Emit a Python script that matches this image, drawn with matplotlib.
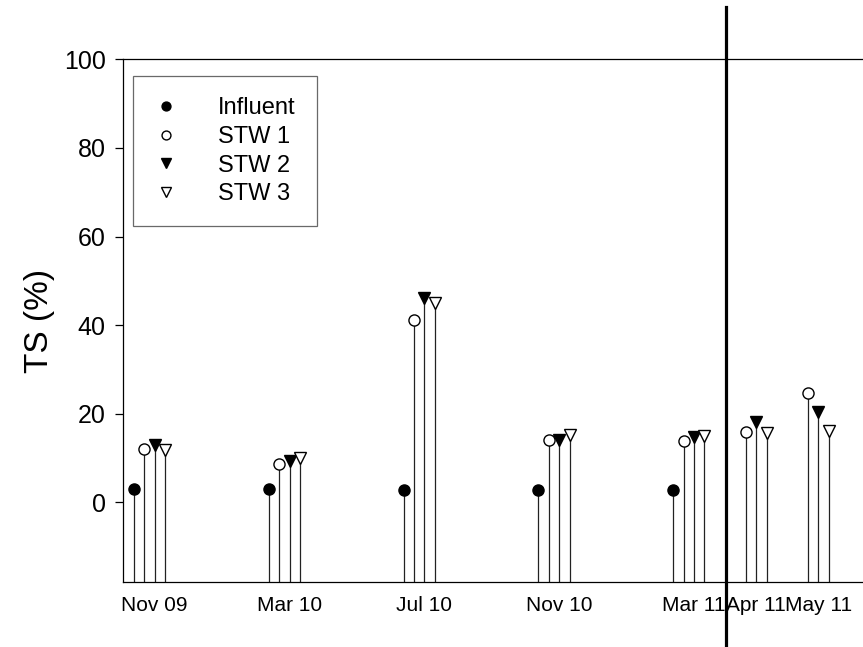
import matplotlib
matplotlib.use("Agg")
import matplotlib.pyplot as plt
import numpy as np

plt.rcParams['font.family'] = ['Liberation Sans', 'DejaVu Sans']

# Data
dates = ["Nov 09", "Mar 10", "Jul 10", "Nov 10", "Mar 11", "Apr 11", "May 11"]
group_pos = [0, 13, 26, 39, 52, 58, 64]
influent = [3.1, 3.1, 2.8, 2.8, 2.8, np.nan, np.nan]
stw1 = [12.0, 8.6, 41.2, 14.0, 13.8, 15.9, 24.6]
stw2 = [13.0, 9.4, 46.2, 14.0, 14.8, 18.2, 20.5]
stw3 = [11.8, 10.0, 45.0, 15.2, 15.0, 15.6, 16.1]
series_names = ["Influent", "STW 1", "STW 2", "STW 3"]
period_split = 57.1

fig = plt.figure(figsize=(8.63, 6.47), dpi=100)
ax = fig.add_axes([0.1425, 0.1009, 0.8575, 0.8074])

ymin = -17.9
series = [influent, stw1, stw2, stw3]
styles = [
    dict(marker='o', mfc='black', mec='black', ms=8),
    dict(marker='o', mfc='white', mec='black', ms=8),
    dict(marker='v', mfc='black', mec='black', ms=9),
    dict(marker='v', mfc='white', mec='black', ms=9),
]
gp = np.array(group_pos, dtype=float)
for i, (vals, st, name) in enumerate(zip(series, styles, series_names)):
    v = np.array(vals, dtype=float)
    x = gp + i
    ok = ~np.isnan(v)
    ax.vlines(x[ok], ymin, v[ok], colors='#222222', lw=0.9, zorder=2)
    ax.plot(x[ok], v[ok], linestyle='none', mew=1.0, label=name, zorder=3, **st)

ax.set_xlim(-1.06, 70.3)
ax.set_ylim(ymin, 100)
ax.set_yticks([0, 20, 40, 60, 80, 100])
ax.set_xticks(gp + 2)
ax.set_xticklabels(dates, fontsize=15)
ax.tick_params(axis='x', length=0, pad=10)
ax.tick_params(axis='y', direction='out', length=5.5, width=0.9, labelsize=18, pad=7)
ax.set_ylabel("TS (%)", fontsize=24, labelpad=6)

for s in ['left', 'bottom', 'top']:
    ax.spines[s].set_linewidth(0.9)
ax.spines['right'].set_visible(False)

ax.axvline(period_split, ymin=-0.125, ymax=1.1, color='black', lw=2.3, clip_on=False, zorder=5)

leg = ax.legend(loc='upper left', bbox_to_anchor=(0.0135, 0.968), fontsize=17,
                frameon=True, fancybox=False, edgecolor='#444444', markerscale=0.8,
                handlelength=1.0, handletextpad=1.7, labelspacing=0.28,
                borderpad=0.9, borderaxespad=0.0, numpoints=1)
leg.get_frame().set_linewidth(0.9)

fig.savefig("out.png", dpi=100)
